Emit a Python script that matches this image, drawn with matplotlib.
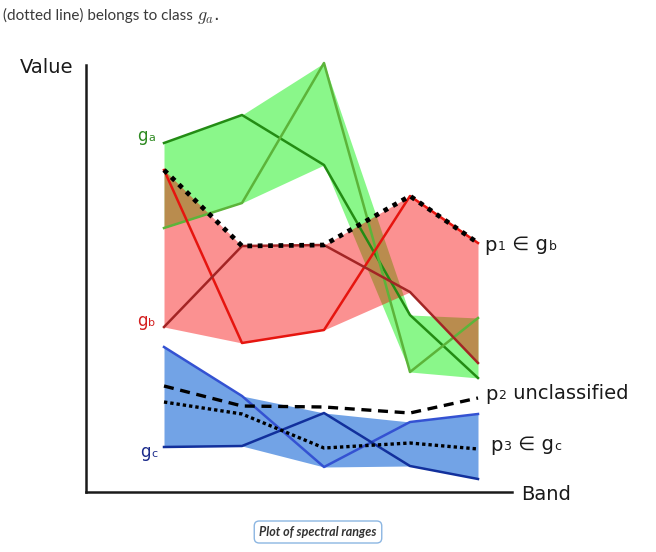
import numpy as np
import matplotlib.pyplot as plt

# band positions along the x axis and values for each spectral curve
bands = [78, 156, 238, 324, 392]

ga_dark = [349, 377, 327, 177, 114]
ga_light = [264, 289, 429, 120, 174]

gb_bright = [322, 149, 162, 296, 249]
gb_dark = [165, 246, 247, 200, 129]

gc_light = [145, 96, 25, 70, 78]
gc_dark = [45, 46, 79, 26, 13]

p1 = [322, 246, 247, 296, 249]
p2 = [106, 86, 85, 79, 94]
p3 = [90, 78, 44, 49, 43]

W, H = 656, 552


def fig_xy(x, y):
    return x / W, 1 - y / H


def compose(fig, x, y, parts, color, big=14, small=9):
    # chain text pieces so the small ones sit on the baseline like in the picture
    last, last_size = None, big
    for txt, is_small in parts:
        size = small if is_small else big
        if last is None:
            last = fig.text(*fig_xy(x, y), txt, fontsize=size, color=color,
                            va="baseline", ha="left")
        else:
            last = plt.annotate(txt, xy=(1, 0), xycoords=last,
                                xytext=(0.6, 0.235 * last_size), textcoords="offset points",
                                fontsize=size, color=color, va="baseline", ha="left")
        last_size = size


fig = plt.figure(figsize=(W / 100, H / 100), dpi=100)
ax = fig.add_axes([86 / W, 60 / H, 426 / W, 427 / H])
ax.set_xlim(0, 426)
ax.set_ylim(0, 427)
for s in ["top", "right"]:
    ax.spines[s].set_visible(False)
for s in ["left", "bottom"]:
    ax.spines[s].set_linewidth(1.8)
    ax.spines[s].set_color("#1a1a1a")
ax.set_xticks([])
ax.set_yticks([])

# ---------------- FILLS ----------------
ax.fill_between(bands, np.minimum(ga_dark, ga_light), np.maximum(ga_dark, ga_light),
                color="#8af78a", lw=0, clip_on=False)
ax.fill_between(bands, np.minimum(gb_bright, gb_dark), np.maximum(gb_bright, gb_dark),
                color="#f80000", alpha=0.43, lw=0, clip_on=False)
ax.fill_between(bands, np.minimum(gc_light, gc_dark), np.maximum(gc_light, gc_dark),
                color="#72a3e6", lw=0, clip_on=False)

# ---------------- LINES ----------------
ax.plot(bands, ga_dark, color="#238c14", lw=1.8, clip_on=False)
ax.plot(bands, ga_light, color="#5cb43a", lw=1.8, clip_on=False)
ax.plot(bands, gb_bright, color="#e6150f", lw=1.8, clip_on=False)
ax.plot(bands, gb_dark, color="#a32525", lw=1.8, clip_on=False)
ax.plot(bands, gc_light, color="#3452d2", lw=1.8, clip_on=False)
ax.plot(bands, gc_dark, color="#12309c", lw=1.8, clip_on=False)

ax.plot(bands, p1, color="black", lw=3.4, ls=(0, (1, 1.2)), clip_on=False)
ax.plot(bands, p2, color="black", lw=2.4, ls=(0, (3, 2)), clip_on=False)
ax.plot(bands, p3, color="black", lw=2.4, ls=(0, (1, 0.9)), clip_on=False)

# ---------------- TEXT ----------------
fig.text(*fig_xy(20, 73), "Value", fontsize=14, color="#1a1a1a", va="baseline")
fig.text(*fig_xy(521, 500), "Band", fontsize=14, color="#1a1a1a", va="baseline")

compose(fig, 137, 141, [("g", False), ("a", True)], "#2e8a22", big=12, small=8)
compose(fig, 137, 326, [("g", False), ("b", True)], "#d42020", big=12, small=8)
compose(fig, 140, 457, [("g", False), ("c", True)], "#1c2c8c", big=12, small=8)

compose(fig, 484, 251, [("p", False), ("1", True), (" \u2208 g", False), ("b", True)], "#1a1a1a")
compose(fig, 485, 400, [("p", False), ("2", True), (" unclassified", False)], "#1a1a1a")
compose(fig, 490, 451, [("p", False), ("3", True), (" \u2208 g", False), ("c", True)], "#1a1a1a")

head = fig.text(*fig_xy(3, 20), "(dotted line) belongs to class ", family="Lato",
                fontsize=11, color="#3a3a3a", va="baseline")
plt.annotate("$g_a$.", xy=(1, 0), xycoords=head, xytext=(0, 0.22 * 11),
             textcoords="offset points", fontsize=13, color="#3a3a3a",
             va="baseline", math_fontfamily="cm")

fig.text(*fig_xy(318, 532), "Plot of spectral ranges", family="Lato", fontsize=9,
         fontweight="bold", fontstyle="italic", color="#333333", ha="center", va="center",
         bbox=dict(boxstyle="round,pad=0.4", fc="white", ec="#8cb6e2", lw=1))

plt.savefig("out.png", dpi=100)
plt.close()
